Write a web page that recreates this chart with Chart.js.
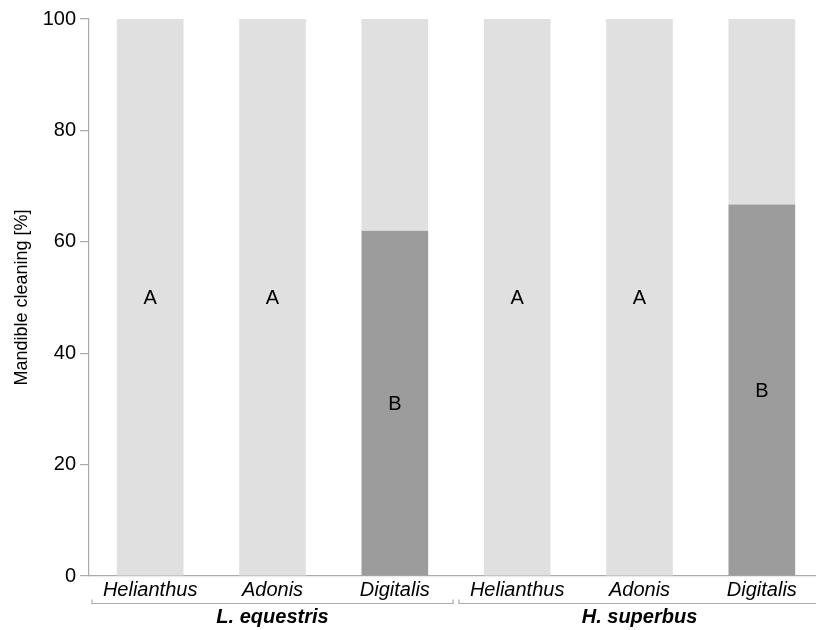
<!DOCTYPE html>
<html>
<head>
<meta charset="utf-8">
<script src="https://cdn.jsdelivr.net/npm/chart.js@4/dist/chart.umd.min.js"></script>
<style>
  html, body { margin: 0; padding: 0; background: #fff; overflow: hidden; }
  #wrap { width: 823px; height: 630px; }
</style>
</head>
<body>
<div id="wrap"><canvas id="c" width="823" height="630"></canvas></div>
<script>
// Plants offered, in order, for each bee species
const plants = ['Helianthus', 'Adonis', 'Digitalis', 'Helianthus', 'Adonis', 'Digitalis'];
const species = ['L. equestris', 'H. superbus'];
const speciesSpan = [[0, 2], [3, 5]];

// Share of bees that cleaned their mandibles [%] and the remainder up to 100 %
const cleaning = [0, 0, 62, 0, 0, 66.7];
const noCleaning = [100, 100, 38, 100, 100, 33.3];

// Significance letters per bar
const letters = ['A', 'A', 'B', 'A', 'A', 'B'];

const yTicks = [0, 20, 40, 60, 80, 100];

const FONT = '"Liberation Sans", Arial, Helvetica, sans-serif';
const AXIS_GREY = '#ababab';

const annotations = {
  id: 'annotations',
  afterDraw(chart) {
    const { ctx } = chart;
    const x = chart.scales.x;
    const y = chart.scales.y;
    const half = (x.getPixelForValue(1) - x.getPixelForValue(0)) / 2;

    // letters: centred in the cleaning segment, or in the whole bar when it is empty
    ctx.save();
    ctx.fillStyle = '#000';
    ctx.font = '20px ' + FONT;
    ctx.textAlign = 'center';
    ctx.textBaseline = 'middle';
    letters.forEach((t, i) => {
      const v = cleaning[i] > 0 ? cleaning[i] / 2 : noCleaning[i] / 2;
      ctx.fillText(t, x.getPixelForValue(i), y.getPixelForValue(v) + 1);
    });
    ctx.restore();

    // species brackets under the plant names
    ctx.save();
    ctx.strokeStyle = AXIS_GREY;
    ctx.lineWidth = 1.2;
    const by = 603.5;
    speciesSpan.forEach(([a, b], k) => {
      const x0 = x.getPixelForValue(a) - half + 3;
      const x1 = x.getPixelForValue(b) + half - 3;
      ctx.beginPath();
      ctx.moveTo(x0, by - 4);
      ctx.lineTo(x0, by);
      ctx.lineTo(x1, by);
      ctx.lineTo(x1, by - 4);
      ctx.stroke();

      ctx.fillStyle = '#000';
      ctx.font = 'italic bold 20px ' + FONT;
      ctx.textAlign = 'center';
      ctx.textBaseline = 'alphabetic';
      ctx.fillText(species[k], (x.getPixelForValue(a) + x.getPixelForValue(b)) / 2, 623);
    });
    ctx.restore();
  }
};

new Chart(document.getElementById('c'), {
  type: 'bar',
  data: {
    labels: plants,
    datasets: [
      {
        label: 'cleaning',
        data: cleaning,
        backgroundColor: '#9c9c9c',
        borderWidth: 0,
        barPercentage: 0.545,
        categoryPercentage: 1
      },
      {
        label: 'no cleaning',
        data: noCleaning,
        backgroundColor: '#e0e0e0',
        borderWidth: 0,
        barPercentage: 0.545,
        categoryPercentage: 1
      }
    ]
  },
  options: {
    responsive: false,
    animation: false,
    devicePixelRatio: 1,
    layout: { padding: { left: 0, right: 0, top: 19, bottom: 0 } },
    plugins: {
      legend: { display: false },
      tooltip: { enabled: false }
    },
    scales: {
      x: {
        stacked: true,
        offset: true,
        grid: { display: false, drawTicks: false },
        border: { display: true, color: AXIS_GREY, width: 1.2 },
        ticks: {
          padding: 2,
          color: '#000',
          font: { family: FONT, size: 20, style: 'italic' },
          maxRotation: 0,
          autoSkip: false
        },
        afterFit(scale) { scale.height = 54; }
      },
      y: {
        stacked: true,
        min: 0,
        max: 100,
        afterBuildTicks(scale) { scale.ticks = yTicks.map(v => ({ value: v })); },
        grid: {
          drawOnChartArea: false,
          drawTicks: true,
          tickLength: 9,
          color: AXIS_GREY,
          lineWidth: 1.2
        },
        border: { display: true, color: AXIS_GREY, width: 1.2 },
        ticks: {
          padding: 4,
          color: '#000',
          font: { family: FONT, size: 20 }
        },
        title: {
          display: true,
          text: 'Mandible cleaning [%]',
          color: '#000',
          font: { family: FONT, size: 18 },
          padding: { top: 11, bottom: 0 }
        },
        afterFit(scale) { scale.width = 89; }
      }
    }
  },
  plugins: [annotations]
});
</script>
</body>
</html>
